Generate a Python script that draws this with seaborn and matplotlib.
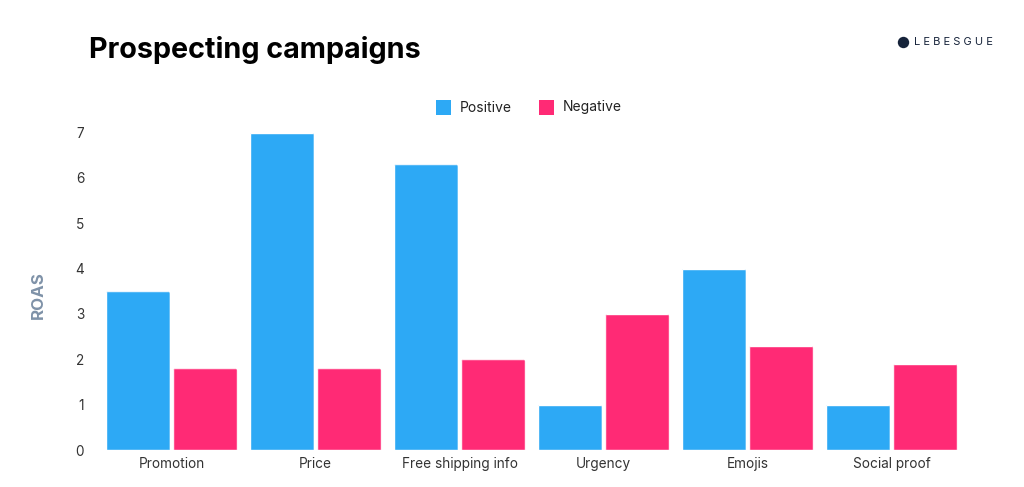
import matplotlib
matplotlib.use("Agg")
import matplotlib.pyplot as plt
from matplotlib.patches import Arc, FancyBboxPatch, Rectangle
import pandas as pd
import seaborn as sns

categories = ["Promotion", "Price", "Free shipping info", "Urgency", "Emojis", "Social proof"]
positive = [3.5, 7.0, 6.3, 1.0, 4.0, 1.0]
negative = [1.8, 1.8, 2.0, 3.0, 2.3, 1.9]
colors = {"Positive": "#2DA9F5", "Negative": "#FF2A75"}

sns.set_theme(style="white")
plt.rcParams["font.family"] = ["Inter", "DejaVu Sans"]

df = pd.DataFrame({
    "Category": categories * 2,
    "Type": ["Positive"] * len(categories) + ["Negative"] * len(categories),
    "ROAS": positive + negative,
})

W, H = 1024, 487
fig = plt.figure(figsize=(W / 100, H / 100), dpi=100, facecolor="white")
ax = fig.add_axes([99.5 / W, 1 - 450 / H, 864 / W, 317.5 / H])
sns.barplot(data=df, x="Category", y="ROAS", hue="Type", palette=colors,
            width=0.935, gap=0.05, saturation=1, ax=ax, legend=False, errorbar=None)
ax.set_xlim(-0.5, 5.5)
ax.set_ylim(0, 7)
sns.despine(ax=ax, left=True, bottom=True)
ax.set_xlabel("")
ax.set_ylabel("")
ax.set_yticks(range(8))
ax.tick_params(axis="both", length=0, labelsize=9.8, labelcolor="#333333")
ax.tick_params(axis="x", pad=5)
ax.tick_params(axis="y", pad=11)

# slightly rounded bar tops: clip each bar to a rounded box (bottom runs below the axis)
px_x = 6 / 864
px_y = 7 / 317.5
for bar in ax.patches:
    x, w, h = bar.get_x(), bar.get_width(), bar.get_height()
    if h <= 0:
        continue
    clip = FancyBboxPatch((x, -0.2), w, h + 0.2,
                          boxstyle=f"round,pad=0,rounding_size={2.5 * px_x}",
                          mutation_aspect=px_y / px_x, transform=ax.transData)
    bar.set_clip_path(clip)

fig.text(89 / W, 1 - 49.5 / H, "Prospecting campaigns", fontsize=20.7, fontweight="bold",
         color="black", va="center", ha="left")
fig.text(38 / W, 1 - 295 / H, "ROAS", fontsize=12.2, fontweight="bold", color="#7F92A8",
         rotation=90, va="center", ha="center")

# legend
for x0, key in [(436, "Positive"), (539, "Negative")]:
    fig.add_artist(Rectangle((x0 / W, 1 - 115 / H), 15 / W, 15 / H, transform=fig.transFigure,
                             facecolor=colors[key], edgecolor="none"))
    fig.text((x0 + 24) / W, 1 - 111.5 / H, key, fontsize=10, color="#222222", va="baseline", ha="left")

# logo
logo = plt.Line2D([903 / W], [1 - 42 / H], marker="o", markersize=8.2, color="#16233A",
                  markeredgewidth=0, transform=fig.transFigure)
fig.add_artist(logo)
fig.add_artist(Arc((904 / W, 1 - 43 / H), 6 / W, 6 / H, theta1=10, theta2=200,
                   color="white", lw=1.0, transform=fig.transFigure))
fig.text(953.5 / W, 1 - 42 / H, "L E B E S G U E", fontsize=8, color="#16233A",
         va="center", ha="center")

fig.savefig("out.png", dpi=100)
